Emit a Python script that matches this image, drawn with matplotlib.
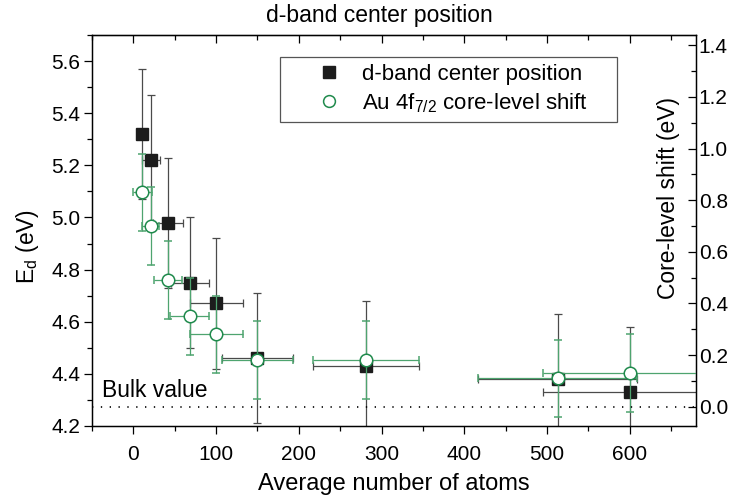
import numpy as np
import matplotlib
matplotlib.use('Agg')
import matplotlib.pyplot as plt
from matplotlib.lines import Line2D
from matplotlib.ticker import MultipleLocator

plt.rcParams['font.family'] = ['Liberation Sans', 'DejaVu Sans']
plt.rcParams['mathtext.fontset'] = 'custom'
plt.rcParams['mathtext.rm'] = 'Liberation Sans'

# average number of atoms per cluster
n_atoms = [11, 21, 42, 68, 100, 150, 281, 513, 600]
n_err_dband = [4, 11, 18, 23, 32, 43, 64, 96, 105]
n_err_cls = [11, 10, 17, 24, 32, 43, 64, 96, 105]

# d-band center position (eV), left axis
e_d = [5.32, 5.22, 4.98, 4.75, 4.67, 4.46, 4.43, 4.38, 4.33]
e_d_err = [0.25, 0.25, 0.25, 0.25, 0.25, 0.25, 0.25, 0.25, 0.25]

# Au 4f7/2 core-level shift (eV), right axis
cls = [0.83, 0.70, 0.49, 0.35, 0.28, 0.18, 0.18, 0.11, 0.13]
cls_err = [0.15, 0.15, 0.15, 0.15, 0.15, 0.15, 0.15, 0.15, 0.15]

green = '#1f8a4c'
green_err = '#4ea46f'

fig = plt.figure(figsize=(7.32, 4.98), dpi=100)
ax = fig.add_axes([0.1257, 0.1446, 0.8251, 0.7851])

ax.errorbar(n_atoms, e_d, yerr=e_d_err, xerr=n_err_dband, fmt='s',
            color='#1c1c1c', ms=8.3, ecolor='#4a4a4a', elinewidth=0.9,
            capsize=3, capthick=0.9)
ax.set_xlim(-50, 680)
ax.set_ylim(4.2, 5.7)
ax.xaxis.set_major_locator(MultipleLocator(100))
ax.xaxis.set_minor_locator(MultipleLocator(50))
ax.yaxis.set_major_locator(MultipleLocator(0.2))
ax.yaxis.set_minor_locator(MultipleLocator(0.1))
ax.tick_params(which='both', direction='out', labelsize=15, top=False, right=False)
ax.tick_params(which='major', length=6, width=0.9)
ax.tick_params(which='minor', length=3.5, width=0.9)
ax.tick_params(axis='y', pad=2.5)
ax.tick_params(axis='x', pad=8)
ax.yaxis.set_major_formatter(matplotlib.ticker.FormatStrFormatter('%.1f'))
for s in ax.spines.values():
    s.set_linewidth(1.0)

ax.set_xlabel('Average number of atoms', fontsize=17)
ax.set_ylabel(r'E$_{\mathregular{d}}$ (eV)', fontsize=16.5)
ax.yaxis.set_label_coords(-0.084, 0.46)
ax.xaxis.set_label_coords(0.5, -0.12)

top = ax.secondary_xaxis('top')
top.xaxis.set_major_locator(MultipleLocator(100))
top.xaxis.set_minor_locator(MultipleLocator(50))
top.tick_params(which='both', direction='in', labeltop=False, width=0.9)
top.tick_params(which='major', length=6)
top.tick_params(which='minor', length=3.5)

ax2 = ax.twinx()
ax2.errorbar(n_atoms, cls, yerr=cls_err, xerr=n_err_cls, fmt='o',
             mfc='white', mec=green, mew=1.1, ms=9, ecolor=green_err,
             elinewidth=0.9, capsize=3, capthick=0.9)
ax2.axhline(0, color='black', lw=1.2, ls=(0, (0.8, 4.5)))
ax2.set_ylim(-0.075, 1.44)
ax2.yaxis.set_major_locator(MultipleLocator(0.2))
ax2.yaxis.set_minor_locator(MultipleLocator(0.1))
ax2.yaxis.set_major_formatter(matplotlib.ticker.FormatStrFormatter('%.1f'))
ax2.tick_params(which='both', direction='in', labelsize=15, pad=2, width=0.9)
ax2.tick_params(which='major', length=6)
ax2.tick_params(which='minor', length=3.5)
ax2.text(0.955, 0.584, 'Core-level shift (eV)', transform=ax2.transAxes,
         rotation=90, ha='center', va='center', fontsize=16.5)

ax.text(0.016, 0.075, 'Bulk value', transform=ax.transAxes, fontsize=16.5,
        va='baseline')

handles = [
    Line2D([], [], marker='s', ls='none', color='#1c1c1c', ms=8),
    Line2D([], [], marker='o', ls='none', mfc='white', mec=green, mew=1.1, ms=8.5),
]
labels = ['d-band center position', r'Au 4f$_{\mathregular{7/2}}$ core-level shift']
leg = ax2.legend(handles, labels, loc='upper left', mode='expand',
                 bbox_to_anchor=(0.311, 0.757, 0.558, 0.187), borderaxespad=0,
                 fontsize=16, borderpad=0.3, handlelength=3.8,
                 handletextpad=-0.42, labelspacing=0.3, fancybox=False,
                 edgecolor='#555555', framealpha=1)
leg.get_frame().set_linewidth(0.9)

fig.text(0.518, 0.968, 'd-band center position', ha='center', va='center',
         fontsize=16.5)

fig.savefig('out.png', dpi=100)
